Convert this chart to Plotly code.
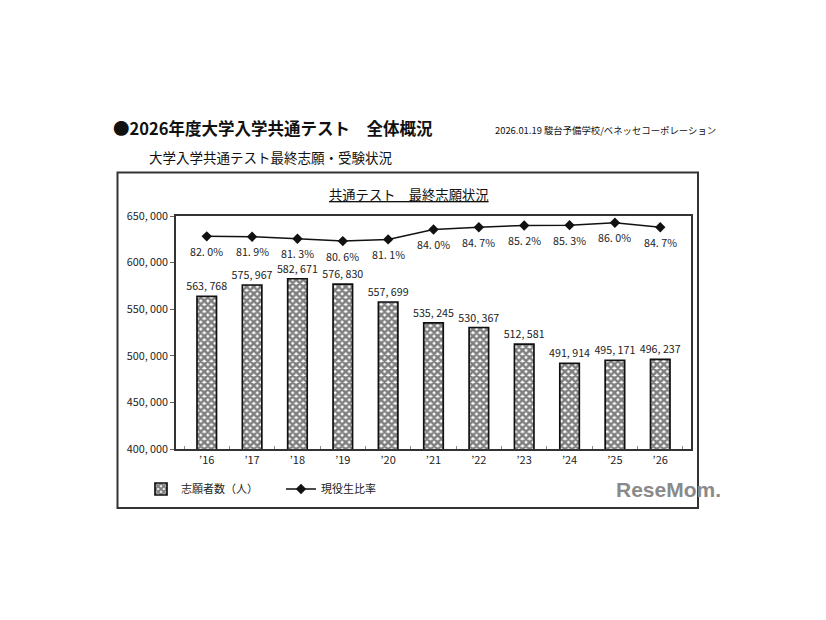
import plotly.graph_objects as go

years = ["’16", "’17", "’18", "’19", "’20", "’21", "’22", "’23", "’24", "’25", "’26"]
applicants = [563768, 575967, 582671, 576830, 557699, 535245, 530367, 512581, 491914, 495171, 496237]
ratio = [82.0, 81.9, 81.3, 80.6, 81.1, 84.0, 84.7, 85.2, 85.3, 86.0, 84.7]
y_ticks = [400000, 450000, 500000, 550000, 600000, 650000]

W, H = 826, 620
L, R, T, B = 176, 691, 216, 449

def px(x):
    return (x - L) / (R - L)

def py(y):
    return (B - y) / (B - T)

FONT = "Noto Sans CJK JP, sans-serif"

fig = go.Figure()
fig.add_trace(go.Bar(
    x=years, y=applicants, name="志願者数（人）",
    width=0.43,
    marker=dict(color="white", line=dict(color="#111", width=1.7),
                pattern=dict(shape="x", size=5, solidity=0.75, fgcolor="#000", bgcolor="white")),
    text=[f"{v:,}".replace(",", ", ") for v in applicants],
    textposition="outside", cliponaxis=False, constraintext="none",
    textfont=dict(size=10.7, color="#222", family=FONT),
))
fig.add_trace(go.Scatter(
    x=years, y=ratio, name="現役生比率", yaxis="y2",
    mode="lines+markers",
    line=dict(color="#111", width=1.5),
    marker=dict(symbol="diamond", size=8, color="#111"),
    cliponaxis=False,
))

annotations = [
    dict(text=f"{v:.1f}%".replace(".", ". "), x=x, y=v, xref="x", yref="y2",
         yshift=-15, showarrow=False, xanchor="center", yanchor="middle",
         font=dict(size=10.7, color="#222"))
    for x, v in zip(years, ratio)
]

annotations += [
    dict(text="<b>●2026年度大学入学共通テスト　全体概況</b>", xref="paper", yref="paper",
         x=px(111), y=py(128), xanchor="left", yanchor="middle", showarrow=False,
         font=dict(size=16.5, color="#111")),
    dict(text="2026.01.19 駿台予備学校/ベネッセコーポレーション", xref="paper", yref="paper",
         x=px(493), y=py(130), xanchor="left", yanchor="middle", showarrow=False,
         font=dict(size=9.4, color="#111")),
    dict(text="大学入学共通テスト最終志願・受験状況", xref="paper", yref="paper",
         x=px(147), y=py(157), xanchor="left", yanchor="middle", showarrow=False,
         font=dict(size=13.5, color="#111")),
    dict(text="<u>共通テスト　最終志願状況</u>", xref="paper", yref="paper",
         x=px(409), y=py(194), xanchor="center", yanchor="middle", showarrow=False,
         font=dict(size=13.3, color="#111")),
    dict(text="<b>ReseMom.</b>", xref="paper", yref="paper",
         x=px(723), y=py(489), xanchor="right", yanchor="middle", showarrow=False,
         font=dict(size=21, color="#8a8a8a", family="Liberation Sans, Arial, sans-serif")),
]

fig.update_layout(
    width=W, height=H,
    margin=dict(l=L, r=W - R, t=T, b=H - B, pad=0),
    paper_bgcolor="white", plot_bgcolor="white",
    font=dict(family=FONT, color="#222", size=12),
    xaxis=dict(type="category", showline=True, linecolor="#333", linewidth=1.5, mirror=True,
               ticks="inside", tickson="boundaries", ticklen=3, tickcolor="#888",
               tickfont=dict(size=11), showgrid=False, automargin=False),
    yaxis=dict(range=[400000, 650000], tickvals=y_ticks,
               ticktext=[f"{v:,}".replace(",", ", ") for v in y_ticks],
               showline=True, linecolor="#333", linewidth=1.5, mirror=True,
               ticks="outside", ticklen=4, tickcolor="#666", showgrid=False,
               tickfont=dict(size=10.8), zeroline=False, automargin=False),
    yaxis2=dict(range=[19.3, 88], overlaying="y", side="right", visible=False),
    showlegend=True,
    legend=dict(orientation="h", x=px(141), y=py(489), xanchor="left", yanchor="middle",
                font=dict(size=11), itemwidth=30, entrywidth=95, bgcolor="rgba(0,0,0,0)"),
    shapes=[
        dict(type="rect", xref="paper", yref="paper", x0=px(117.5), x1=px(698), y0=py(172.5), y1=py(508),
             line=dict(color="#333", width=2), layer="below"),
    ],
    annotations=annotations,
)

fig.write_html("out.html", config={"displayModeBar": False},
               post_script="document.body.style.margin='0';")
